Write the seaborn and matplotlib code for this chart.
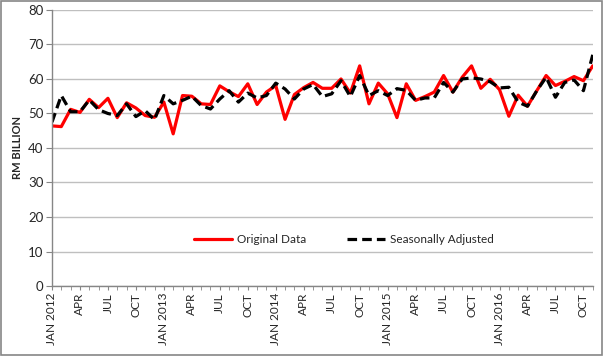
import numpy as np
import pandas as pd
import matplotlib
matplotlib.use("Agg")
import matplotlib.pyplot as plt
from matplotlib.patches import Rectangle
import seaborn as sns

# monthly values, Jan 2012 - Nov 2016 (RM billion)
original = [46.4, 46.2, 51.2, 50.3, 54.1, 51.7, 54.4, 48.8, 53.1, 51.6, 49.4, 48.9,
            53.3, 44.1, 55.2, 55.0, 52.8, 52.6, 58.0, 56.3, 54.9, 58.6, 52.6, 56.2,
            58.1, 48.3, 55.5, 57.5, 59.0, 57.3, 57.3, 60.0, 55.9, 63.8, 52.8, 58.8,
            55.7, 48.8, 58.6, 53.8, 54.9, 56.2, 61.0, 56.2, 60.5, 63.8, 57.3, 59.9,
            56.9, 49.2, 55.3, 52.1, 56.6, 61.0, 58.1, 59.3, 60.7, 59.5, 63.8]
seasonal = [47.5, 55.2, 50.5, 50.5, 53.9, 51.1, 50.0, 49.4, 52.8, 49.1, 50.8, 48.2,
            55.2, 52.8, 53.8, 55.0, 52.3, 51.3, 54.2, 56.6, 53.3, 55.9, 54.5, 55.2,
            58.8, 57.1, 54.2, 57.1, 58.4, 54.9, 55.7, 59.5, 54.9, 61.0, 55.2, 56.6,
            55.2, 57.2, 56.7, 53.8, 54.5, 54.5, 59.0, 56.2, 60.0, 60.3, 60.0, 59.2,
            57.4, 57.6, 53.3, 52.1, 56.6, 60.5, 54.7, 59.0, 59.7, 56.6, 67.0]
tick_labels = ["JAN 2012", "APR", "JUL", "OCT",
               "JAN 2013", "APR", "JUL", "OCT",
               "JAN 2014", "APR", "JUL", "OCT",
               "JAN 2015", "APR", "JUL", "OCT",
               "JAN 2016", "APR", "JUL", "OCT"]

df = pd.DataFrame({"month": np.arange(len(original)),
                   "Original Data": original,
                   "Seasonally Adjusted": seasonal})

sns.set_style("white")
plt.rcParams["font.family"] = ["Lato", "DejaVu Sans"]

fig = plt.figure(figsize=(6.03, 3.56), dpi=100)
ax = fig.add_axes([0.0862, 0.1966, 0.8968, 0.7754])

sns.lineplot(data=df, x="month", y="Original Data", ax=ax, color="#ff0000",
             lw=2.3, label="Original Data")
sns.lineplot(data=df, x="month", y="Seasonally Adjusted", ax=ax, color="black",
             lw=2.3, linestyle=(0, (3, 1.6)), label="Seasonally Adjusted")

ax.set_xlim(0, len(original) - 1)
ax.set_ylim(0, 80)
ax.set_yticks(np.arange(0, 81, 10))
ax.yaxis.grid(True, color="#bfbfbf", lw=1)
ax.set_axisbelow(True)

ax.set_xticks(np.arange(0, len(original), 3))
ax.set_xticklabels(tick_labels, rotation=90, fontsize=8.5)
ax.set_xticks(np.arange(len(original)), minor=True)
ax.tick_params(axis="x", which="both", direction="out", length=3, color="#868686",
               bottom=True, pad=2)
ax.tick_params(axis="y", direction="out", length=4, color="#868686", left=True,
               labelsize=9.5, pad=2)

for s in ["top", "right"]:
    ax.spines[s].set_visible(False)
for s in ["left", "bottom"]:
    ax.spines[s].set_color("#868686")
    ax.spines[s].set_linewidth(1)

ax.set_xlabel("")
ax.set_ylabel("RM BILLION", fontsize=8, fontweight="bold", labelpad=4)

ax.legend(loc="center", bbox_to_anchor=(0.54, 0.167), ncol=2, frameon=False,
          fontsize=8.5, handlelength=3.2, columnspacing=3.5, handletextpad=0.4)

fig.add_artist(Rectangle((0.001, 0.002), 0.997, 0.995, transform=fig.transFigure,
                         fill=False, ec="#868686", lw=1.2))

fig.savefig("out.png", dpi=100)
